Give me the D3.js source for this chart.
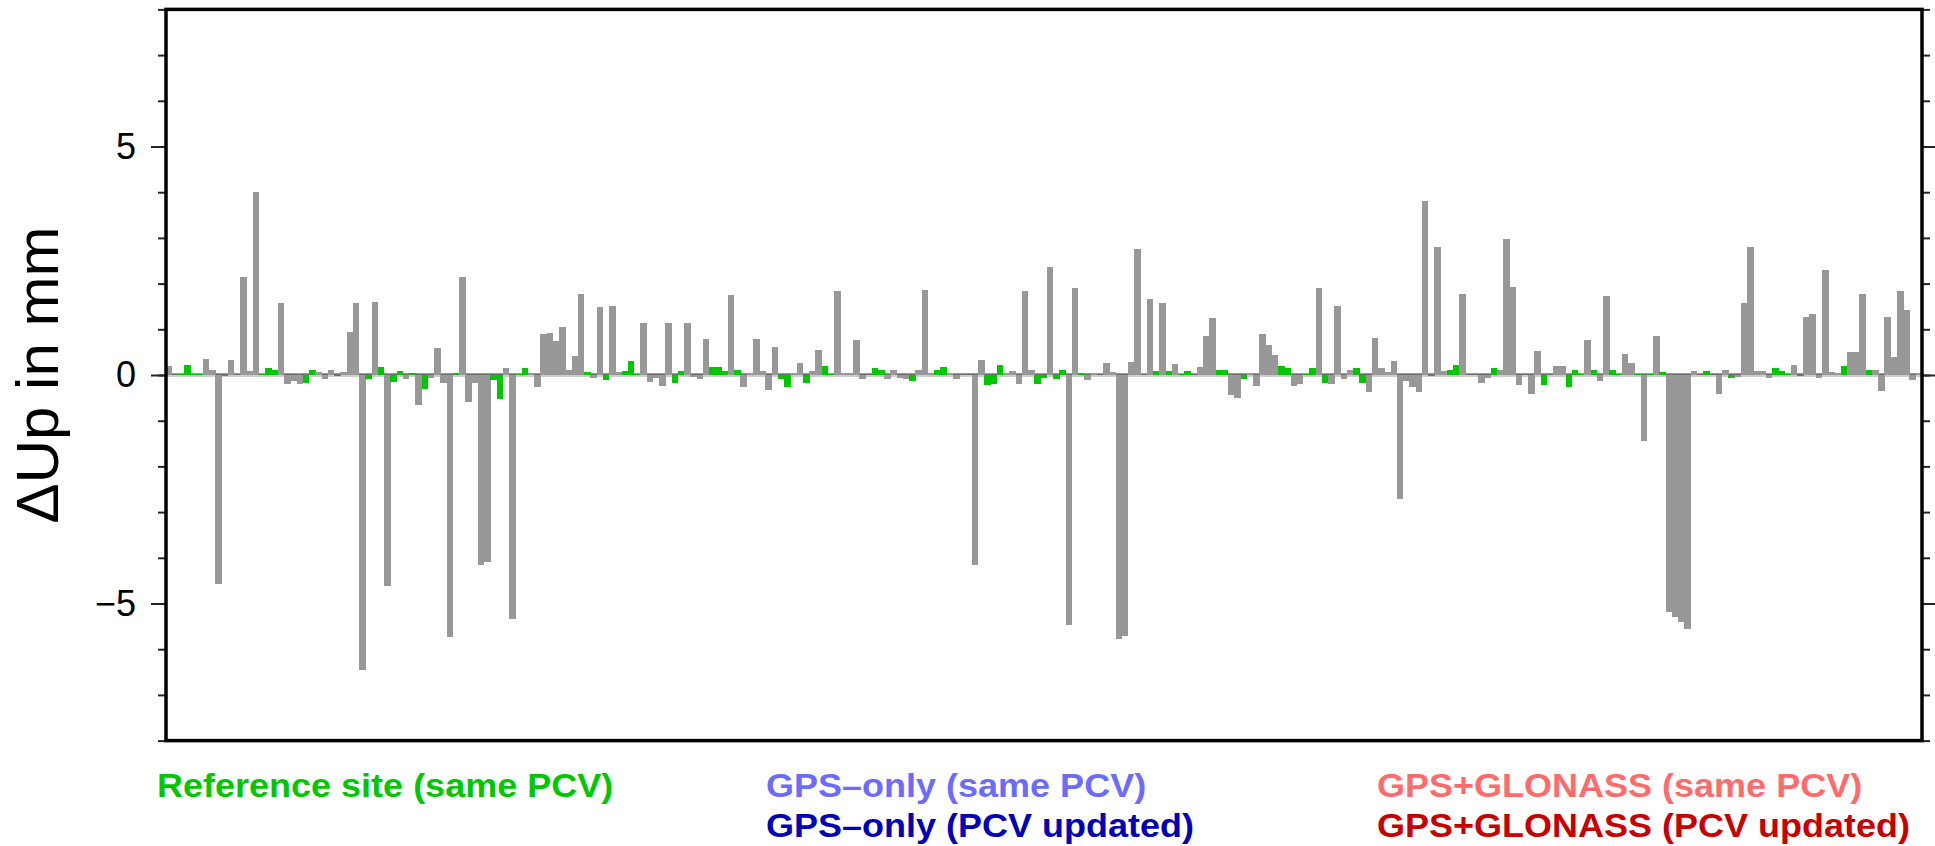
<!DOCTYPE html>
<html>
<head>
<meta charset="utf-8">
<script src="https://cdn.jsdelivr.net/npm/d3@7"></script>
<style>
  html, body { margin: 0; padding: 0; background: #ffffff; }
  svg { display: block; }
</style>
</head>
<body>
<script>
// ---------- DATA ----------
// ΔUp values (mm) for each bar slot, left to right, in six chunks
const deltaUp1 = [0.19, 0, 0.02, 0.21, 0.02, 0.02, 0.34, 0.12, -4.58, -0.02, 0.32, 0, 2.14, 0.08, 4.0, 0.02, 0.15, 0.1, 1.57, -0.2, -0.13, -0.2, -0.18, 0.1, 0.06, -0.09, 0.1, -0.02, 0.06, 0.93, 1.57, -6.46, -0.09, 1.59, 0.17, -4.62, -0.15, 0.08, -0.09, 0.04, -0.66, -0.31, -0.07, 0.58, -0.18, -5.74, 0.04];
const deltaUp2 = [2.14, -0.59, -0.18, -4.16, -4.09, -0.11, -0.53, 0.15, -5.34, 0.02, 0.15, 0.04, -0.26, 0.89, 0.91, 0.74, 1.04, 0.12, 0.41, 1.77, 0.06, -0.07, 1.48, -0.11, 1.5, 0.06, 0.08, 0.3, 0.02, 1.13, -0.15, -0.07, -0.24, 1.13, -0.18, 0.08, 1.13, -0.04, -0.09, 0.78, 0.17, 0.17, 0.08, 1.74, 0.12, -0.26];
const deltaUp3 = [0.02, 0.78, 0.08, -0.33, 0.61, -0.09, -0.26, 0.04, 0.26, -0.18, 0.08, 0.54, 0.19, 0.02, 1.83, 0.04, 0.04, 0.76, -0.09, 0.01, 0.15, 0.1, -0.09, 0.12, -0.07, -0.09, -0.13, 0.1, 1.85, 0.03, 0.12, 0.17, 0.02, -0.09, 0.01, 0.01, -4.16, 0.32, -0.22, -0.2, 0.21, 0.04, 0.08, -0.2, 1.83, 0.1, -0.2];
const deltaUp4 = [-0.07, 2.36, -0.09, 0.12, -5.47, 1.9, 0.04, -0.11, 0.04, 0.01, 0.26, 0.06, -5.78, -5.72, 0.28, 2.75, 0, 1.66, 0.08, 1.57, 0.08, 0.23, 0.02, 0.08, 0.01, 0.17, 0.85, 1.24, 0.1, 0.1, -0.44, -0.5, -0.09, 0.04, -0.24, 0.89, 0.65, 0.43, 0.19, 0.15, -0.24, -0.2, 0.02, 0.15, 1.9, -0.18];
const deltaUp5 = [-0.2, 1.5, -0.09, 0.1, 0.15, -0.18, -0.37, 0.82, 0.15, 0.06, 0.3, -2.72, -0.13, -0.26, -0.37, 3.8, -0.02, 2.8, 0.08, 0.1, 0.21, 1.77, 0, 0, -0.18, -0.07, 0.15, 0.12, 2.97, 1.92, -0.22, 0, -0.42, 0.52, -0.22, 0, 0.19, 0.19, -0.26, 0.1, 0.02, 0.76, 0.1, -0.13, 1.72];
const deltaUp6 = [0.1, 0.02, 0.46, 0.26, 0.02, -1.45, 0.02, 0.85, 0.06, -5.19, -5.3, -5.41, -5.56, 0.08, 0, 0.08, 0, -0.42, 0.1, -0.07, -0.04, 1.57, 2.8, 0.08, 0.08, -0.07, 0.15, 0.08, 0.02, 0.22, -0.02, 1.28, 1.33, -0.07, 2.29, 0.06, 0.04, 0.19, 0.5, 0.5, 1.77, 0.1, 0.1, -0.35, 1.28, 0.39, 1.83, 1.42, -0.11, 0.04];

// bar kind per slot: "g" = gray bar, "r" = reference site (green)
const kinds1 = "ggrrrrgggrgggggrrrggggrrgggrggggrgrgrrgrgrggggr";
const kinds2 = "gggggrrggrrgggggggggrggrggrrrgggggrrggggrrrgrg";
const kinds3 = "gggggrrggrggrrggggggrrggggrgggrrggrrggrrrgggggr";
const kinds4 = "rgrrggrgggggggggggrgrgrrggggrrggrgggggrrggrrgr";
const kinds5 = "ggggrrggggggggggrggrrgggggrgggggggrgggrrrgrgg";
const kinds6 = "rrggrgrgrggggggrgggrggggggrrrgrggggggrgggrgggggggg";

// axis ticks
const yMinorTicks = [-8, -7, -6, -5, -4, -3, -2, -1, 0, 1, 2, 3, 4, 5, 6, 7, 8];
const yMajorTicks = [-5, 0, 5];
const yDomain = [-8, 8];

// legend entries
const legendTexts = [
  "Reference site (same PCV)",
  "GPS\u2013only (same PCV)",
  "GPS\u2013only (PCV updated)",
  "GPS+GLONASS (same PCV)",
  "GPS+GLONASS (PCV updated)"
];
const yTitle = "\u0394Up in mm";

// ---------- BUILD ----------
const deltaUp = [].concat(deltaUp1, deltaUp2, deltaUp3, deltaUp4, deltaUp5, deltaUp6);
const kinds = (kinds1 + kinds2 + kinds3 + kinds4 + kinds5 + kinds6).split("");
const bars = deltaUp.map((v, i) => ({ slot: i, value: v, kind: kinds[i] || "g" }));

const W = 1935, H = 846;
const plot = { left: 166, right: 1922, top: 9.4, bottom: 740.6 };

const colors = { g: "#989898", r: "#00c800" };
const legendColors = ["#00c800", "#6b6bff", "#0000b8", "#ff6b6b", "#c80000"];
const FONT = "'Liberation Sans', Arial, Helvetica, sans-serif";

const svg = d3.select("body").append("svg")
  .attr("width", W).attr("height", H)
  .attr("viewBox", `0 0 ${W} ${H}`);

const x = d3.scaleBand()
  .domain(bars.map(d => d.slot))
  .range([165.3, plot.right])
  .paddingInner(0).paddingOuter(0);

const y = d3.scaleLinear().domain(yDomain).range([plot.bottom, plot.top]);

// zero lines
const y0 = y(0);
svg.append("line")
  .attr("x1", plot.left).attr("x2", plot.right)
  .attr("y1", y0 - 0.8).attr("y2", y0 - 0.8)
  .attr("stroke", "#3c3c3c").attr("stroke-width", 1.3);
svg.append("line")
  .attr("x1", plot.left).attr("x2", plot.right)
  .attr("y1", y0 + 1.0).attr("y2", y0 + 1.0)
  .attr("stroke", "#bdbdbd").attr("stroke-width", 1.7);

// bars
svg.append("g").selectAll("rect")
  .data(bars.filter(d => d.value !== 0))
  .join("rect")
  .attr("x", d => x(d.slot))
  .attr("width", x.bandwidth() + 0.3)
  .attr("y", d => Math.min(y(d.value), y0))
  .attr("height", d => Math.abs(y(d.value) - y0))
  .attr("fill", d => colors[d.kind])
  .attr("shape-rendering", "crispEdges");

// axes: minor + major ticks, left and right
function styleAxis(g) {
  g.select(".domain").remove();
  g.selectAll(".tick line").attr("stroke", "#262626").attr("stroke-width", 2);
  g.selectAll(".tick text")
    .attr("fill", "#000")
    .style("font-family", FONT)
    .style("font-size", "36px");
}

svg.append("g").attr("transform", `translate(${plot.left},0)`)
  .call(d3.axisLeft(y).tickValues(yMinorTicks).tickSize(8).tickFormat(""))
  .call(styleAxis);
svg.append("g").attr("transform", `translate(${plot.left},0)`)
  .call(d3.axisLeft(y).tickValues(yMajorTicks).tickSize(15).tickPadding(15).tickFormat(d3.format("d")))
  .call(styleAxis);
svg.append("g").attr("transform", `translate(${plot.right},0)`)
  .call(d3.axisRight(y).tickValues(yMinorTicks).tickSize(8).tickFormat(""))
  .call(styleAxis);
svg.append("g").attr("transform", `translate(${plot.right},0)`)
  .call(d3.axisRight(y).tickValues(yMajorTicks).tickSize(13).tickFormat(""))
  .call(styleAxis);

// frame
svg.append("rect")
  .attr("x", plot.left).attr("y", plot.top)
  .attr("width", plot.right - plot.left).attr("height", plot.bottom - plot.top)
  .attr("fill", "none").attr("stroke", "#000").attr("stroke-width", 3.5);

// y title
svg.append("text")
  .attr("transform", `translate(58,${(plot.top + plot.bottom) / 2}) rotate(-90)`)
  .attr("text-anchor", "middle")
  .style("font-family", FONT)
  .style("font-size", "60px")
  .attr("fill", "#000")
  .text(yTitle);

// legend texts
const legendPos = [
  { x: 157, y: 797 },
  { x: 766, y: 797 },
  { x: 766, y: 837 },
  { x: 1377, y: 797 },
  { x: 1377, y: 837 }
];
const legend = svg.append("g").selectAll("text")
  .data(legendTexts)
  .join("text")
  .attr("x", (d, i) => legendPos[i].x)
  .attr("y", (d, i) => legendPos[i].y)
  .attr("fill", (d, i) => legendColors[i])
  .style("font-family", FONT)
  .style("font-weight", "bold")
  .style("font-size", "36px")
  .text(d => d);
// keep the measured width of the 36px text, but with slightly shorter glyphs
legend.each(function () {
  const len = this.getComputedTextLength();
  d3.select(this)
    .style("font-size", "34px")
    .attr("textLength", len)
    .attr("lengthAdjust", "spacingAndGlyphs");
});
</script>
</body>
</html>
